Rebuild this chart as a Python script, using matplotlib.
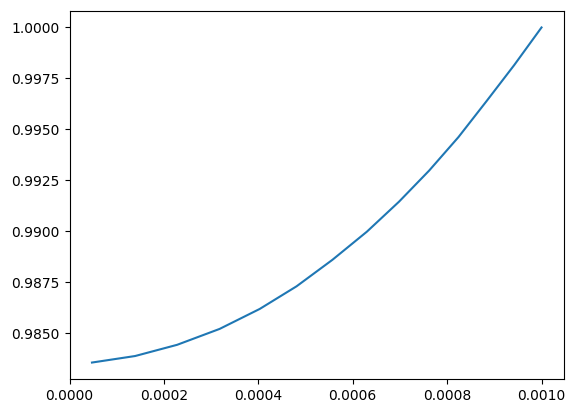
import matplotlib
matplotlib.use("Agg")
import matplotlib.pyplot as plt

x_values = [0.0000476, 0.000139, 0.000228, 0.000318, 0.000403, 0.000481, 0.000557,
            0.000630, 0.000698, 0.000762, 0.000824, 0.000884, 0.000942, 0.001]
y_values = [0.98356, 0.98388, 0.98443, 0.98521, 0.98619, 0.98730, 0.98860,
            0.98998, 0.99145, 0.99298, 0.99462, 0.99640, 0.99815, 1.0000]

fig = plt.figure(figsize=(5.76, 4.13), dpi=100)
ax = fig.add_axes([69.5 / 576, 1 - 379.3 / 413, (564 - 69.5) / 576, (379.3 - 10.7) / 413])
ax.plot(x_values, y_values, color="#1f77b4")
ax.ticklabel_format(useOffset=False)
ax.xaxis.set_major_formatter(matplotlib.ticker.FormatStrFormatter("%.4f"))
ax.yaxis.set_major_formatter(matplotlib.ticker.FormatStrFormatter("%.4f"))
fig.savefig("out.png", dpi=100)
